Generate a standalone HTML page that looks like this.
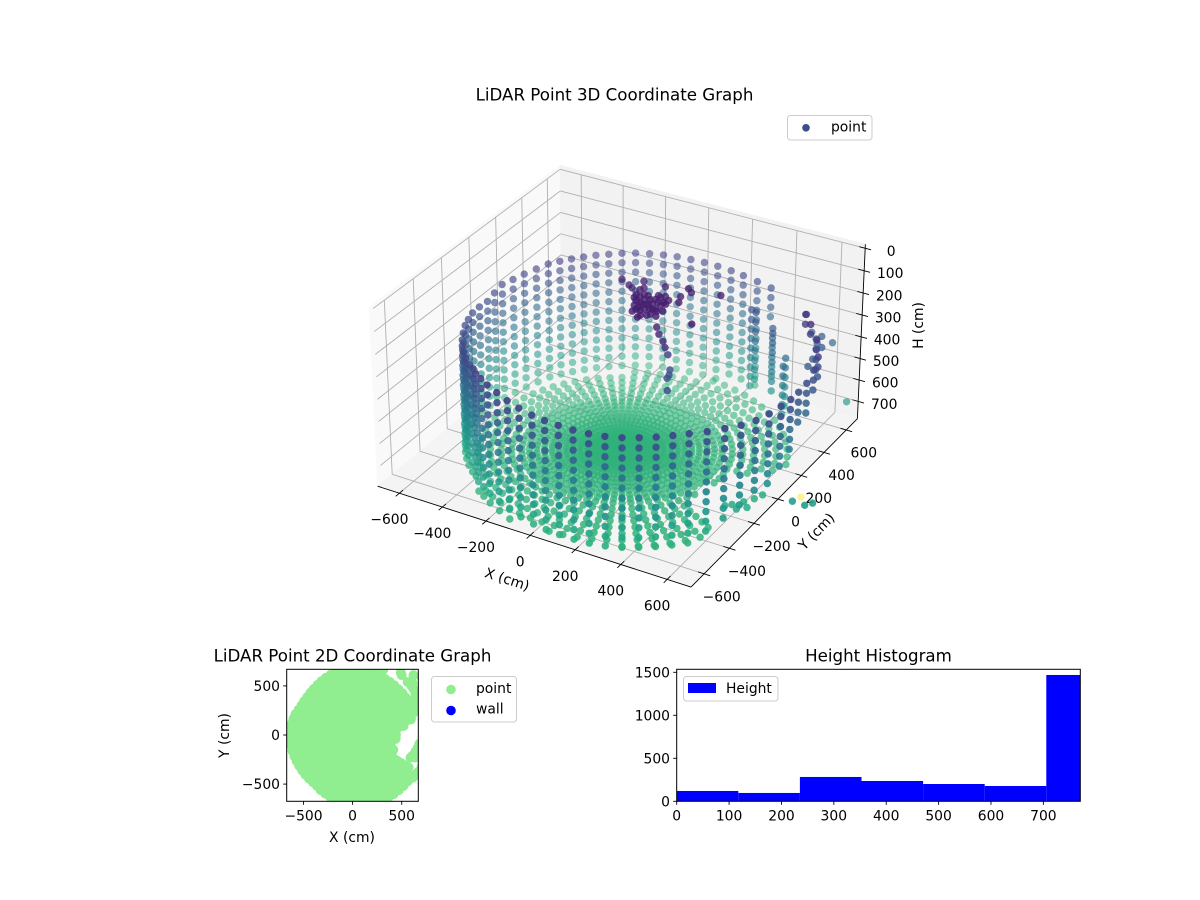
<!DOCTYPE html>
<html>
<head>
<meta charset="utf-8">
<title>LiDAR Point Graphs</title>
<style>
html,body{margin:0;padding:0;background:#fff;}
svg{display:block;font-family:"DejaVu Sans","Liberation Sans",sans-serif;fill:#000;}
text{dominant-baseline:central;}
</style>
</head>
<body>
<svg id="fig" xmlns="http://www.w3.org/2000/svg" width="1200" height="900" viewBox="0 0 1200 900">
  <defs>
    <clipPath id="clip2d"><rect x="286.7" y="669.3" width="131.6" height="132"/></clipPath>
  </defs>
  <rect x="0" y="0" width="1200" height="900" fill="#fff"/>
  <text x="614.5" y="95" font-size="16.67" text-anchor="middle">LiDAR Point 3D Coordinate Graph</text>
  <g id="panes"></g>
  <g id="grid3d"></g>
  <g id="axes3d"></g>
  <g id="points3d"></g>
  <text x="507" y="580" font-size="13.89" text-anchor="middle" transform="rotate(18 507 580)">X (cm)</text>
  <text x="817" y="532" font-size="13.89" text-anchor="middle" transform="rotate(-46 817 532)">Y (cm)</text>
  <text x="919" y="325.5" font-size="13.89" text-anchor="middle" transform="rotate(-90 919 325.5)">H (cm)</text>
  <g>
    <rect x="787.5" y="115.5" width="84.5" height="24.5" rx="3" fill="#fff" fill-opacity="0.8" stroke="#ccc"/>
    <circle cx="806" cy="127.8" r="3.8" fill="#3b4d8c"/>
    <text x="831" y="127.5" font-size="13.89">point</text>
  </g>

  <g id="points2d" clip-path="url(#clip2d)"></g>
  <rect x="286.7" y="669.3" width="131.6" height="132" fill="none" stroke="#000" stroke-width="1"/>
  <g id="axes2d"></g>
  <text x="352.5" y="656" font-size="16.67" text-anchor="middle">LiDAR Point 2D Coordinate Graph</text>
  <text x="352" y="838" font-size="13.89" text-anchor="middle">X (cm)</text>
  <text x="225" y="735.5" font-size="13.89" text-anchor="middle" transform="rotate(-90 225 735.5)">Y (cm)</text>
  <g>
    <rect x="431.5" y="676.5" width="85" height="45.5" rx="3" fill="#fff" fill-opacity="0.8" stroke="#ccc"/>
    <circle cx="451" cy="689.5" r="4.8" fill="#90ee90"/>
    <text x="476" y="689" font-size="13.89">point</text>
    <circle cx="451" cy="710.5" r="4.8" fill="#0000ff"/>
    <text x="476" y="709.5" font-size="13.89">wall</text>
  </g>

  <g id="bars"></g>
  <rect x="676.7" y="669.3" width="403.6" height="132" fill="none" stroke="#000" stroke-width="1"/>
  <g id="axesHist"></g>
  <text x="878.5" y="656" font-size="16.67" text-anchor="middle">Height Histogram</text>
  <g>
    <rect x="683.5" y="676.5" width="94.5" height="24.5" rx="3" fill="#fff" fill-opacity="0.8" stroke="#ccc"/>
    <rect x="688" y="683" width="28" height="10" fill="#0000ff"/>
    <text x="726" y="689" font-size="13.89">Height</text>
  </g>
</svg>
<script>
// ---- Chart data: LiDAR scan ----
const spokeAngles = [-180,-175,-170,-165,-160,-155,-150,-145,-140,-135,-130,-125,-120,-115,-110,-105,-100,-95,-90,-85,-80,-75,-70,-65,-60,-55,-50,-45,-40,-35,-30,-25,-20,-15,-10,-5,0,5,10,15,20,25,30,35,40,45,50,55,60,65,70,75,80,85,90,95,100,105,110,115,120,125,130,135,140,145,150,155,160,165,170,175];
const spokeRadius = [622,628,632,630,628,626,625,625,625,625,625,630,645,655,666,668,672,675,676,685,695,705,715,725,730,730,730,730,730,750,766,775,780,782,783,780,776,779,782,782,764,735,716,640,660,620,640,590,600,735,715,696,690,680,672,665,660,655,650,640,630,620,612,605,600,598,598,605,615,622,630,625];
const spokeTop = [268,268,268,268,265,268,269,265,262,260,258,245,235,225,222,230,240,250,261,263,265,268,270,271,272,274,276,278,281,276,272,275,277,275,272,275,278,273,251,230,194,164,155,420,417,330,340,284,300,267,258,248,245,240,236,233,230,228,226,222,219,217,214,212,210,209,209,220,230,238,242,255];
const spokeBottom = [770,770,770,770,770,770,770,770,770,770,770,770,770,770,770,770,770,770,770,770,770,770,770,770,770,770,770,770,770,720,680,650,625,590,549,500,441,420,380,350,330,250,200,660,650,620,600,600,660,400,770,770,770,770,770,770,770,770,770,770,770,770,770,770,770,770,770,770,770,770,770,770];
const floorReach = [600,600,610,610,610,600,600,600,600,600,600,610,620,630,640,640,650,650,650,660,670,680,690,700,710,710,710,710,710,710,700,450,450,440,440,450,450,470,560,640,660,660,660,660,660,660,660,660,660,660,660,660,660,660,650,640,640,630,630,620,610,600,600,590,580,580,580,590,600,600,600,600];
const floorRadii = [15,40,65,90,115,140,168,196,224,252,280,310,340,370,400,441,483,526,570,615,660,705];
const floorHeights = [768,768,768,768,768,768,768,768,768,769,769,769,769,769,769,769,770,770,770,770,770,770];
const wallRowStep = 44;
const clutterX = [-93,-45,-23,-10,18,45,39,42,54,71,94,98,103,112,125,151,143,142,144,112,135,170,85,87,63,111,121,76,104,156,176,193,172,197,86,320,308,77,77,18,11,63,131,97,142,65,117,114,23,153,173,189,206,230,243,246,259,267,264,319];
const clutterY = [161,134,119,190,142,95,73,39,1,-44,-22,35,83,106,123,102,52,15,-29,-75,-44,-33,73,29,32,43,66,-5,-7,69,152,107,223,201,191,-19,238,-22,23,80,121,96,9,116,78,61,9,-56,55,3,15,-60,-73,-83,-90,-72,-79,-100,-110,-206];
const clutterH = [100,100,100,100,100,100,100,100,100,100,100,100,100,100,100,100,100,100,100,100,100,100,100,100,100,100,100,100,100,100,100,100,100,100,100,100,100,100,100,100,100,100,100,100,100,100,100,100,100,100,100,130,150,170,190,230,290,300,310,300];
const outlierX = [620,706,500,849,903,922,491,610,640,665,680,590,640,670,640,620,600,660,670,610,650,560];
const outlierY = [610,583,610,-171,-174,-145,637,-210,-170,-130,-90,-230,-230,-200,420,470,500,350,290,530,450,540];
const outlierH = [405,640,309,650,650,650,1190,720,720,720,720,720,720,720,336,340,340,340,340,340,340,340];
const histCounts = [120,97,283,236,201,178,1469];
const histBinWidth = 117.6;
const tickValues3d = [-600,-400,-200,0,200,400,600];
const tickValuesH = [0,100,200,300,400,500,600,700];
const tickValues2d = [-500,0,500];
const histTicksX = [0,100,200,300,400,500,600,700];
const histTicksY = [0,500,1000,1500];
const wallX = [];
const wallY = [];

const NS = 'http://www.w3.org/2000/svg';
const viridisStops = ['#440154','#482475','#414487','#355f8d','#2a788e','#21918c','#22a884','#44bf70','#7ad151','#bddf26','#fde725'];
const hMaxColor = 1190;

function hexRgb(h){return [parseInt(h.slice(1,3),16),parseInt(h.slice(3,5),16),parseInt(h.slice(5,7),16)];}
function viridis(t){
  t=Math.max(0,Math.min(1,t));
  const p=t*10, i=Math.min(9,Math.floor(p)), f=p-i;
  const a=hexRgb(viridisStops[i]), b=hexRgb(viridisStops[i+1]);
  return 'rgb('+a.map((v,k)=>Math.round(v+(b[k]-v)*f)).join(',')+')';
}
function fmt(v){return v<0?'\u2212'+(-v):String(v);}

// ---- 3D axis function ----
const PANE_XY = 702, H_CENTER = 382, H_HALF = 400;
function project(x,y,h){
  const dx=x*0.595/PANE_XY, dy=y*0.595/PANE_XY, dz=(H_CENTER-h)*0.34/H_HALF;
  const xv=0.8660254*dx+0.5*dy;
  const yv=-0.25*dx+0.4330127*dy+0.8660254*dz;
  const zv=-10+0.4330127*dx-0.75*dy+0.5*dz;
  return [622+3000*xv/(-zv),365-3000*yv/(-zv),zv];
}
// ---- 2D axis functions ----
function sx2d(v){return 352.6+v*0.0982;}
function sy2d(v){return 735-v*0.0982;}
function hx(v){return 676.7+v*0.5238;}
function hy(v){return 801.3-v*0.086;}

function addLine(parent,a,b,stroke,w,name){
  const el=document.createElementNS(NS,'line');
  el.setAttribute('x1',a[0].toFixed(2));
  el.setAttribute('y1',a[1].toFixed(2));
  el.setAttribute('x2',b[0].toFixed(2));
  el.setAttribute('y2',b[1].toFixed(2));
  el.setAttribute('stroke',stroke);
  el.setAttribute('stroke-width',w);
  
  
  parent.appendChild(el);
}
function addText(parent,x,y,s,anchor,name){
  const el=document.createElementNS(NS,'text');
  el.setAttribute('x',x.toFixed(1));
  el.setAttribute('y',y.toFixed(1));
  el.setAttribute('font-size','13.89');
  el.setAttribute('text-anchor',anchor);
  el.textContent=s;
  
  
  parent.appendChild(el);
}
function addPane(parent,corners,fill,name){
  const el=document.createElementNS(NS,'polygon');
  el.setAttribute('points',corners.map(c=>{const p=project(c[0],c[1],c[2]);return p[0].toFixed(2)+','+p[1].toFixed(2);}).join(' '));
  el.setAttribute('fill',fill);
  el.setAttribute('stroke',fill);
  el.setAttribute('stroke-width','0.8');
  
  
  parent.appendChild(el);
}

// ---- Panes ----
const P=PANE_XY, HT=H_CENTER-H_HALF, HB=H_CENTER+H_HALF;
const panes=document.getElementById('panes');
addPane(panes,[[-P,-P,HT],[-P,P,HT],[-P,P,HB],[-P,-P,HB]],'#f9f9f9','pane-x');
addPane(panes,[[-P,P,HT],[P,P,HT],[P,P,HB],[-P,P,HB]],'#f2f2f2','pane-y');
addPane(panes,[[-P,-P,HB],[P,-P,HB],[P,P,HB],[-P,P,HB]],'#f4f4f4','pane-floor');

// ---- Gridlines ----
const grid=document.getElementById('grid3d');
const GL=676, GT=0, gridColor='#b0b0b0';
tickValues3d.forEach(v=>{
  addLine(grid,project(v,-GL,HB),project(v,P,HB),gridColor,0.9,'gridline-x-floor');
  addLine(grid,project(v,P,HB),project(v,P,GT),gridColor,0.9,'gridline-x-wall');
  addLine(grid,project(P,v,HB),project(-P,v,HB),gridColor,0.9,'gridline-y-floor');
  addLine(grid,project(-P,v,HB),project(-P,v,GT),gridColor,0.9,'gridline-y-wall');
});
tickValuesH.forEach(v=>{
  addLine(grid,project(-P,-GL,v),project(-P,P,v),gridColor,0.9,'gridline-h-left');
  addLine(grid,project(-P,P,v),project(GL,P,v),gridColor,0.9,'gridline-h-back');
});

// ---- 3D axes ----
const ax=document.getElementById('axes3d');
addLine(ax,project(-P,-P,HB),project(P,-P,HB),'#000',0.9,'x-axis-line-3d');
addLine(ax,project(P,-P,HB),project(P,P,HB),'#000',0.9,'y-axis-line-3d');
addLine(ax,project(P,P,HB),project(P,P,HT),'#000',0.9,'h-axis-line-3d');
const TK=26;
tickValues3d.forEach(v=>{
  const a=project(v,-P-TK,HB), b=project(v,-P+TK,HB), m=project(v,-P,HB);
  addLine(ax,a,b,'#000',0.9,'x-tick-3d');
  addText(ax,m[0]-10,m[1]+27,fmt(v),'middle','x-tick-label-3d');
  const c=project(P+TK,v,HB), d=project(P-TK,v,HB), n=project(P,v,HB);
  addLine(ax,c,d,'#000',0.9,'y-tick-3d');
  addText(ax,n[0]+17.5,n[1]+23.5,fmt(v),'middle','y-tick-label-3d');
});
tickValuesH.forEach(v=>{
  const a=project(P+TK,P,v), b=project(P-TK,P,v), m=project(P,P,v);
  addLine(ax,a,b,'#000',0.9,'h-tick-3d');
  addText(ax,m[0]+26,m[1]+3.5,fmt(v),'middle','h-tick-label-3d');
});

// ---- Assemble the scan ----
const pts=[];
spokeAngles.forEach((deg,i)=>{
  const rad=deg*Math.PI/180, c=Math.cos(rad), s=Math.sin(rad);
  const r=spokeRadius[i];
  for(let h=spokeTop[i];h<=spokeBottom[i];h+=wallRowStep){
    pts.push([r*c,r*s,h]);
  }
  floorRadii.forEach((fr,k)=>{
    if(fr<=floorReach[i]) pts.push([fr*c,fr*s,floorHeights[k]]);
  });
});
clutterX.forEach((x,i)=>pts.push([x,clutterY[i],clutterH[i]]));
outlierX.forEach((x,i)=>pts.push([x,outlierY[i],outlierH[i]]));

// ---- 3D scatter, drawn far to near ----
const g3=document.getElementById('points3d');
const projected=pts.map(p=>{const q=project(p[0],p[1],p[2]);return {x:q[0],y:q[1],z:q[2],h:p[2]};});
projected.sort((a,b)=>a.z-b.z);
projected.forEach(q=>{
  const alpha=Math.max(0.45,Math.min(1,1-(-9.4-q.z)*0.42));
  const el=document.createElementNS(NS,'circle');
  el.setAttribute('cx',q.x.toFixed(1));
  el.setAttribute('cy',q.y.toFixed(1));
  el.setAttribute('r','3.7');
  el.setAttribute('fill',viridis(q.h/hMaxColor));
  el.setAttribute('fill-opacity',alpha.toFixed(2));
  
  
  g3.appendChild(el);
});

// ---- 2D scatter ----
const g2=document.getElementById('points2d');
pts.forEach(p=>{
  const el=document.createElementNS(NS,'circle');
  el.setAttribute('cx',sx2d(p[0]).toFixed(1));
  el.setAttribute('cy',sy2d(p[1]).toFixed(1));
  el.setAttribute('r','5');
  el.setAttribute('fill','#90ee90');
  
  
  g2.appendChild(el);
});
wallX.forEach((x,i)=>{
  const el=document.createElementNS(NS,'circle');
  el.setAttribute('cx',sx2d(x).toFixed(1));
  el.setAttribute('cy',sy2d(wallY[i]).toFixed(1));
  el.setAttribute('r','5');
  el.setAttribute('fill','#0000ff');
  
  
  g2.appendChild(el);
});
const a2=document.getElementById('axes2d');
tickValues2d.forEach(v=>{
  addLine(a2,[sx2d(v),801.3],[sx2d(v),804.8],'#000',0.9,'x-tick-2d');
  addText(a2,sx2d(v),816.5,fmt(v),'middle','x-tick-label-2d');
  addLine(a2,[283.2,sy2d(v)],[286.7,sy2d(v)],'#000',0.9,'y-tick-2d');
  addText(a2,280,sy2d(v)+1,fmt(v),'end','y-tick-label-2d');
});

// ---- Histogram ----
const gb=document.getElementById('bars');
const histRight=1080.3;
histCounts.forEach((n,i)=>{
  const x0=hx(i*histBinWidth), x1=Math.min(histRight,hx((i+1)*histBinWidth));
  const el=document.createElementNS(NS,'rect');
  el.setAttribute('x',x0.toFixed(2));
  el.setAttribute('y',hy(n).toFixed(2));
  el.setAttribute('width',(x1-x0).toFixed(2));
  el.setAttribute('height',(hy(0)-hy(n)).toFixed(2));
  el.setAttribute('fill','#0000ff');
  
  
  gb.appendChild(el);
});
const ah=document.getElementById('axesHist');
histTicksX.forEach(v=>{
  addLine(ah,[hx(v),801.3],[hx(v),804.8],'#000',0.9,'x-tick-histogram');
  addText(ah,hx(v),816.5,fmt(v),'middle','x-tick-label-histogram');
});
histTicksY.forEach(v=>{
  addLine(ah,[673.2,hy(v)],[676.7,hy(v)],'#000',0.9,'y-tick-histogram');
  addText(ah,670,hy(v)+1,fmt(v),'end','y-tick-label-histogram');
});
</script>
</body>
</html>
